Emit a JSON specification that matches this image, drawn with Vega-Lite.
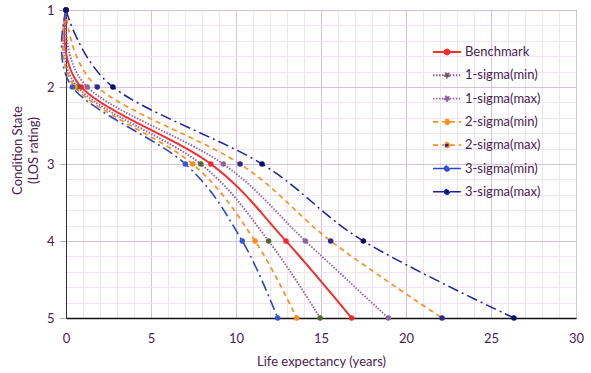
{
  "$schema": "https://vega.github.io/schema/vega-lite/v6.json",
  "width": 510,
  "height": 308,
  "autosize": "none",
  "padding": {"left": 66, "top": 10, "right": 15, "bottom": 55},
  "background": "white",
  "config": {
    "view": {"stroke": "#4a4a4a", "strokeWidth": 1},
    "font": "Lato",
    "axis": {"labelFont": "Lato", "titleFont": "Lato", "labelColor": "#4A2350", "titleColor": "#4A2350", "labelFontSize": 13, "titleFontSize": 13, "titleFontWeight": "normal"}
  },
  "data": {
    "values": [
      {"series": "Benchmark", "state": 1, "x": 0},
      {"series": "Benchmark", "state": 2, "x": 0.9},
      {"series": "Benchmark", "state": 3, "x": 8.52},
      {"series": "Benchmark", "state": 4, "x": 12.94},
      {"series": "Benchmark", "state": 5, "x": 16.8},
      {"series": "1-sigma(min)", "state": 1, "x": 0},
      {"series": "1-sigma(min)", "state": 2, "x": 0.67},
      {"series": "1-sigma(min)", "state": 3, "x": 7.93},
      {"series": "1-sigma(min)", "state": 4, "x": 11.92},
      {"series": "1-sigma(min)", "state": 5, "x": 14.95},
      {"series": "1-sigma(max)", "state": 1, "x": 0},
      {"series": "1-sigma(max)", "state": 2, "x": 1.25},
      {"series": "1-sigma(max)", "state": 3, "x": 9.25},
      {"series": "1-sigma(max)", "state": 4, "x": 14.08},
      {"series": "1-sigma(max)", "state": 5, "x": 18.96},
      {"series": "2-sigma(min)", "state": 1, "x": 0},
      {"series": "2-sigma(min)", "state": 2, "x": 0.53},
      {"series": "2-sigma(min)", "state": 3, "x": 7.45},
      {"series": "2-sigma(min)", "state": 4, "x": 11.12},
      {"series": "2-sigma(min)", "state": 5, "x": 13.57},
      {"series": "2-sigma(max)", "state": 1, "x": 0},
      {"series": "2-sigma(max)", "state": 2, "x": 1.84},
      {"series": "2-sigma(max)", "state": 3, "x": 10.24},
      {"series": "2-sigma(max)", "state": 4, "x": 15.57},
      {"series": "2-sigma(max)", "state": 5, "x": 22.12},
      {"series": "3-sigma(min)", "state": 1, "x": 0},
      {"series": "3-sigma(min)", "state": 2, "x": 0.37},
      {"series": "3-sigma(min)", "state": 3, "x": 7.02},
      {"series": "3-sigma(min)", "state": 4, "x": 10.37},
      {"series": "3-sigma(min)", "state": 5, "x": 12.45},
      {"series": "3-sigma(max)", "state": 1, "x": 0},
      {"series": "3-sigma(max)", "state": 2, "x": 2.76},
      {"series": "3-sigma(max)", "state": 3, "x": 11.53},
      {"series": "3-sigma(max)", "state": 4, "x": 17.49},
      {"series": "3-sigma(max)", "state": 5, "x": 26.35}
    ]
  },
  "encoding": {
    "x": {
      "field": "x", "type": "quantitative",
      "scale": {"domain": [0, 30], "nice": false},
      "axis": {
        "title": "Life expectancy (years)",
        "values": [0,1,2,3,4,5,6,7,8,9,10,11,12,13,14,15,16,17,18,19,20,21,22,23,24,25,26,27,28,29,30],
        "labelExpr": "datum.value % 5 === 0 ? datum.label : ''",
        "labelOverlap": false, "labelFlush": false,
        "gridColor": {"condition": {"test": "datum.value % 5 === 0", "value": "#D8C0DC"}, "value": "#F0E4F2"},
        "ticks": false, "domainColor": "#111111", "domainWidth": 1.3,
        "labelPadding": 14, "titlePadding": 10
      }
    },
    "y": {
      "field": "state", "type": "quantitative",
      "scale": {"domain": [1, 5], "reverse": true, "nice": false, "zero": false},
      "axis": {
        "title": ["Condition State", "(LOS rating)"],
        "values": [1,1.2,1.4,1.6,1.8,2,2.2,2.4,2.6,2.8,3,3.2,3.4,3.6,3.8,4,4.2,4.4,4.6,4.8,5],
        "labelExpr": "datum.value % 1 === 0 ? format(datum.value, 'd') : ''",
        "labelOverlap": false, "labelFlush": false,
        "gridColor": {"condition": {"test": "datum.value % 1 === 0", "value": "#D8C0DC"}, "value": "#F0E4F2"},
        "tickColor": {"condition": {"test": "datum.value % 1 === 0", "value": "#B8A8BC"}, "value": "transparent"},
        "tickSize": 7, "labelPadding": 5,
        "domainColor": "#3A2A3A",
        "titleX": -49, "titleY": 140, "titleAngle": -90, "titleAlign": "center", "titleBaseline": "middle", "titleLineHeight": 16
      }
    },
    "order": {"field": "state", "type": "quantitative"}
  },
  "layer": [
    {
      "mark": {"type": "line", "interpolate": "cardinal"},
      "encoding": {
        "stroke": {
          "field": "series", "type": "nominal",
          "scale": {
            "domain": ["Benchmark", "1-sigma(min)", "1-sigma(max)", "2-sigma(min)", "2-sigma(max)", "3-sigma(min)", "3-sigma(max)"],
            "range": ["#F3302B", "#93649F", "#93649F", "#FF8F1F", "#FF8F1F", "#2846C8", "#1A22A0"]
          },
          "legend": {"title": null, "orient": "none", "legendX": 366, "legendY": 34, "padding": 0,
            "symbolType": "M-1,0H-0.2M0.2,0H1M0.17,0A0.17,0.17,0,1,1,-0.17,0A0.17,0.17,0,1,1,0.17,0Z",
            "symbolSize": 784, "symbolStrokeWidth": 1.6, "clipHeight": 16, "rowPadding": 7.3,
            "labelOffset": 3, "labelFontSize": 13, "labelFont": "Lato", "labelColor": "#4A2350"}
        },
        "strokeDash": {
          "field": "series", "type": "nominal",
          "scale": {
            "domain": ["Benchmark", "1-sigma(min)", "1-sigma(max)", "2-sigma(min)", "2-sigma(max)", "3-sigma(min)", "3-sigma(max)"],
            "range": [[1, 0], [1.5, 1.5], [1.5, 1.5], [5, 4], [5, 4], [11, 4, 2, 4], [11, 4, 2, 4]]
          },
          "legend": {"title": null, "orient": "none", "legendX": 366, "legendY": 34, "padding": 0,
            "symbolType": "M-1,0H-0.2M0.2,0H1M0.17,0A0.17,0.17,0,1,1,-0.17,0A0.17,0.17,0,1,1,0.17,0Z",
            "symbolSize": 784, "symbolStrokeWidth": 1.6, "clipHeight": 16, "rowPadding": 7.3,
            "labelOffset": 3, "labelFontSize": 13, "labelFont": "Lato", "labelColor": "#4A2350"}
        },
        "strokeWidth": {
          "field": "series", "type": "nominal",
          "scale": {
            "domain": ["Benchmark", "1-sigma(min)", "1-sigma(max)", "2-sigma(min)", "2-sigma(max)", "3-sigma(min)", "3-sigma(max)"],
            "range": [2, 1.5, 1.5, 2, 2, 2, 2]
          },
          "legend": null
        }
      }
    },
    {
      "mark": {"type": "point", "filled": true, "size": 30, "opacity": 1},
      "encoding": {
        "fill": {
          "field": "series", "type": "nominal",
          "scale": {
            "domain": ["Benchmark", "1-sigma(min)", "1-sigma(max)", "2-sigma(min)", "2-sigma(max)", "3-sigma(min)", "3-sigma(max)"],
            "range": ["#F02828", "#4F6A2C", "#8A649E", "#FF8C10", "#2A2A96", "#3656D6", "#0B0B66"]
          },
          "legend": {"title": null, "orient": "none", "legendX": 366, "legendY": 34, "padding": 0,
            "symbolType": "M-1,0H-0.2M0.2,0H1M0.17,0A0.17,0.17,0,1,1,-0.17,0A0.17,0.17,0,1,1,0.17,0Z",
            "symbolSize": 784, "symbolStrokeWidth": 1.6, "clipHeight": 16, "rowPadding": 7.3,
            "labelOffset": 3, "labelFontSize": 13, "labelFont": "Lato", "labelColor": "#4A2350"}
        }
      }
    }
  ]
}
